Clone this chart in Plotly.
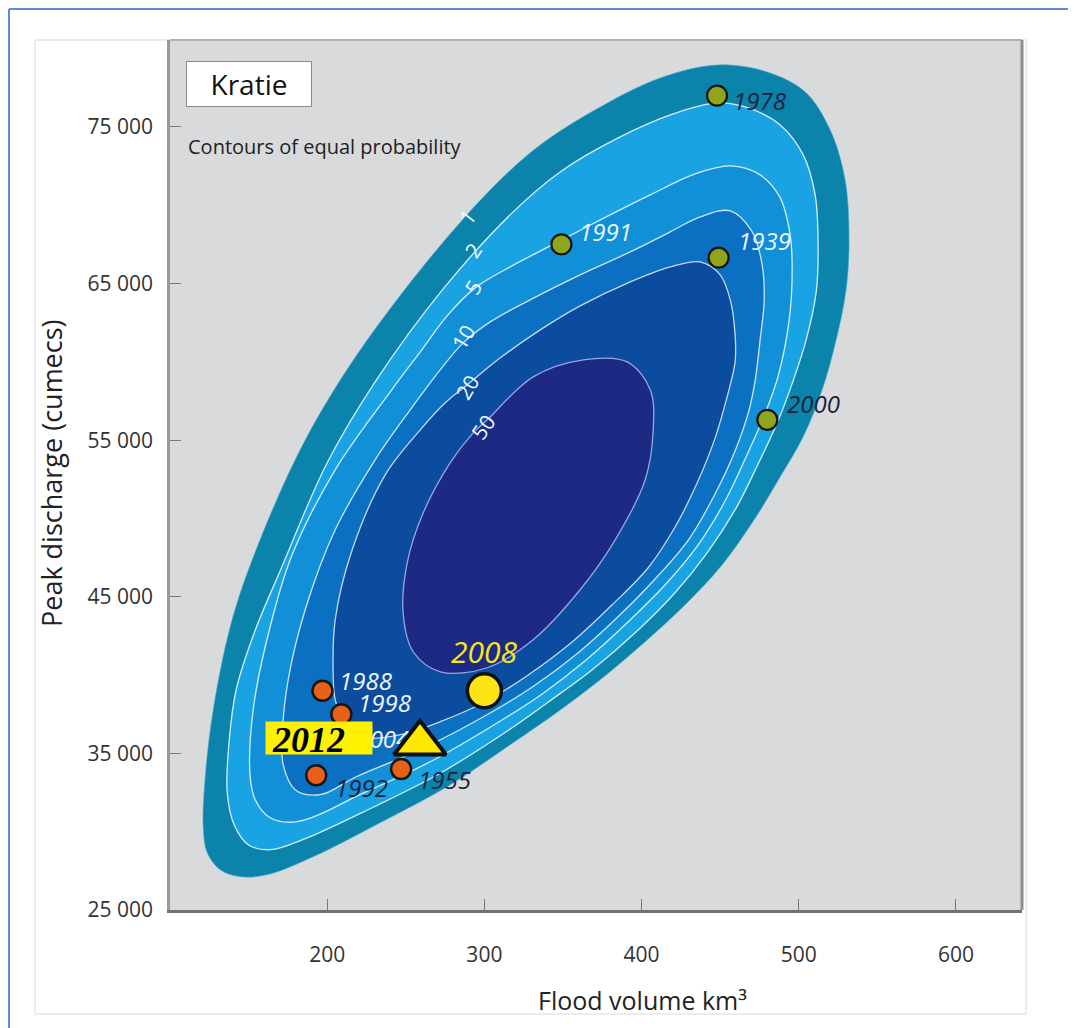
import plotly.graph_objects as go

# ---------------- axis ticks ----------------
x_tickvals = [200, 300, 400, 500, 600]
x_ticktext = ["200", "300", "400", "500", "600"]
y_tickvals = [25000, 35000, 45000, 55000, 65000, 75000]
y_ticktext = ["25 000", "35 000", "45 000", "55 000", "65 000", "75 000"]

# ---------------- contours of equal probability ----------------
levels = ["1", "2", "5", "10", "20", "50"]

c1_x = [448.1, 479.9, 504.1, 520.0, 529.5, 532.0, 530.1, 523.8, 514.9, 502.8, 488.2, 471.6, 451.3, 427.7,
        402.3, 373.7, 345.0, 318.3, 276.3, 233.7, 191.1, 161.8, 144.7, 131.9, 123.7, 121.1, 122.4, 127.5,
        138.3, 152.3, 182.8, 214.6, 259.2, 303.7, 335.5, 373.7, 411.8]
c1_y = [78957, 78510, 77234, 74808, 71617, 67787, 64595, 61404, 58212, 55212, 52659, 49914, 47042, 44489,
        42127, 39702, 37531, 35680, 32872, 30574, 28404, 27255, 27127, 27574, 28659, 30319, 33510, 37787,
        43085, 47361, 54382, 59808, 65872, 70978, 73851, 76276, 78127]

c2_x = [448.1, 467.8, 488.2, 502.8, 510.4, 512.3, 511.1, 504.7, 496.4, 486.3, 474.2, 460.2, 441.7, 420.7,
        396.6, 368.6, 340.0, 313.9, 271.3, 228.6, 186.0, 163.7, 149.8, 140.8, 136.4, 137.7, 142.1, 153.6,
        170.1, 200.0, 230.5, 273.8, 318.3, 348.2, 385.1, 420.1]
c2_y = [76532, 76212, 75127, 73212, 70659, 67468, 64468, 61404, 58787, 56106, 53489, 50680, 47808, 45191,
        42765, 40340, 38234, 36382, 33702, 31531, 29553, 28850, 29170, 30446, 32489, 35872, 39063, 42702,
        46659, 53553, 58723, 64659, 69574, 72127, 74297, 75829]

c3_x = [456.4, 475.4, 488.2, 494.5, 495.8, 493.9, 486.9, 478.0, 466.5, 453.2, 436.0, 415.0, 391.5, 364.1,
        336.1, 309.4, 266.8, 223.5, 180.9, 163.7, 154.2, 151.0, 152.9, 163.7, 177.7, 205.1, 240.1, 259.2,
        276.3, 294.1, 316.4, 341.9, 373.7, 405.5, 434.1]
c3_y = [72510, 71936, 70468, 68106, 65872, 62680, 59106, 56553, 53936, 51127, 48319, 45765, 43404, 40914,
        38744, 37021, 34531, 32489, 30638, 30893, 32042, 33510, 37787, 43085, 47680, 53106, 58085, 60638,
        62936, 64723, 66063, 67404, 69063, 70659, 72000]

c4_x = [456.4, 470.4, 476.7, 478.0, 475.4, 472.3, 468.4, 459.5, 446.8, 430.3, 409.9, 387.0, 359.7, 331.7,
        305.0, 261.7, 218.5, 195.6, 179.6, 172.0, 171.4, 175.2, 186.0, 205.1, 230.5, 252.8, 271.9, 286.5,
        303.7, 329.1, 360.9, 392.8, 418.2, 437.3]
c4_y = [69638, 68297, 66191, 63957, 61404, 58851, 56936, 54319, 51574, 48702, 46276, 43914, 41425, 39319,
        37659, 35361, 33510, 32361, 32680, 34276, 36191, 39702, 44170, 49276, 53744, 56936, 59489, 61212,
        62553, 63957, 65553, 67021, 68297, 69255]

c5_x = [437.3, 450.0, 456.4, 459.5, 459.5, 454.4, 446.8, 435.4, 421.4, 404.2, 381.3, 355.2, 327.2, 300.5,
        271.9, 246.4, 224.2, 211.5, 205.1, 203.8, 205.1, 215.9, 236.9, 259.2, 275.1, 289.1, 310.1, 335.5,
        360.9, 392.8, 418.2]
c5_y = [66383, 65553, 63957, 61723, 60000, 57765, 55148, 52276, 49468, 46851, 44489, 42063, 39957, 38297,
        37021, 36191, 35999, 36829, 38425, 40021, 43531, 47999, 52787, 55659, 57383, 58531, 60255, 62042,
        63574, 65106, 66063]

c6_x = [301.8, 331.0, 362.9, 390.8, 405.5, 407.4, 402.3, 383.2, 360.9, 331.0, 301.8, 271.9, 254.7, 248.3,
        250.9, 261.1, 278.2, 292.9]
c6_y = [56297, 59041, 60127, 59998, 58212, 55659, 52467, 48637, 45446, 42255, 40468, 40212, 41489, 43978,
        47169, 50361, 53553, 55468]

# contour label anchor positions
level_label_x = [288.9, 292.9, 292.9, 286.5, 289.1, 299.2]
level_label_y = [69274, 67148, 64787, 61595, 58404, 55851]

# ---------------- observed floods ----------------
green_years = ["1978", "1991", "1939", "2000"]
green_x = [448, 349, 449, 480]
green_y = [77000, 67500, 66650, 56300]

orange_years = ["1988", "1998", "2004", "1992", "1955"]
orange_x = [197, 209, 210, 193, 247]
orange_y = [39000, 37500, 35750, 33600, 34000]

y2008_x = [300]
y2008_y = [39000]

y2012_x = [259]
y2012_y = [35650]

# ---------------- styling ----------------
band_colors = ["#0c83ab", "#19a3e3", "#1190d8", "#0b6fc2", "#0b4c9f", "#1d2a83"]
line_colors = ["#4fb0d0", "#d5eefb", "#d5eefb", "#cfe6f7", "#c6d9f0", "#9aa6e0"]

fig = go.Figure()

contours = [(c1_x, c1_y), (c2_x, c2_y), (c3_x, c3_y), (c4_x, c4_y), (c5_x, c5_y), (c6_x, c6_y)]
for i, (cx, cy) in enumerate(contours):
    fig.add_trace(go.Scatter(
        x=cx + cx[:1], y=cy + cy[:1], mode="lines", fill="toself",
        fillcolor=band_colors[i],
        line=dict(color=line_colors[i], width=0.6 if i == 0 else 1.3, shape="spline", smoothing=1.0),
        hoverinfo="skip", showlegend=False))

fig.add_trace(go.Scatter(
    x=green_x, y=green_y, mode="markers",
    marker=dict(size=20, color="#8ea51d", line=dict(color="#161616", width=2.2)),
    showlegend=False, hoverinfo="skip"))

fig.add_trace(go.Scatter(
    x=orange_x, y=orange_y, mode="markers+text",
    text=["" if yr != "2004" else yr for yr in orange_years],
    textposition="middle right",
    textfont=dict(family="Open Sans", size=24, color="#e8f4ff", style="italic"),
    marker=dict(size=20, color="#e8601a", line=dict(color="#161616", width=2.5)),
    showlegend=False, hoverinfo="skip"))

fig.add_trace(go.Scatter(
    x=y2008_x, y=y2008_y, mode="markers",
    marker=dict(size=34, color="#fbe516", line=dict(color="#111111", width=3.5)),
    showlegend=False, hoverinfo="skip"))

fig.add_trace(go.Scatter(
    x=y2012_x, y=y2012_y, mode="markers",
    marker=dict(symbol="triangle-up", size=45, color="#ffe800", line=dict(color="#111111", width=4)),
    showlegend=False, hoverinfo="skip"))

annotations = []

# contour level labels
level_angles = [-52, -55, -58, -60, -60, -55]
for t, lx, ly, ang in zip(levels, level_label_x, level_label_y, level_angles):
    annotations.append(dict(x=lx, y=ly, xref="x", yref="y", text=t, showarrow=False,
                            textangle=ang, font=dict(family="Open Sans", size=21, color="#f2f8ff")))

# year labels (offsets in pixels)
label_style = {
    "1978": dict(dx=14, dy=-5, color="#1b1f3b"),
    "1991": dict(dx=16, dy=13, color="#eef6ff"),
    "1939": dict(dx=17, dy=17, color="#eef6ff"),
    "2000": dict(dx=18, dy=16, color="#1b1f3b"),
    "1988": dict(dx=15, dy=10, color="#eef6ff"),
    "1998": dict(dx=15, dy=12, color="#eef6ff"),
    "1992": dict(dx=17, dy=-12, color="#1b1f3b"),
    "1955": dict(dx=15, dy=-10, color="#1b1f3b"),
}
for yrs, xs, ys in [(green_years, green_x, green_y), (orange_years, orange_x, orange_y)]:
    for yr, px_, py_ in zip(yrs, xs, ys):
        if yr not in label_style:
            continue
        st = label_style[yr]
        annotations.append(dict(x=px_, y=py_, xref="x", yref="y", text="<i>%s</i>" % yr, showarrow=False,
                                xanchor="left", yanchor="middle", xshift=st["dx"], yshift=st["dy"],
                                font=dict(family="Open Sans", size=24, color=st["color"])))

annotations.append(dict(x=y2008_x[0], y=y2008_y[0], xref="x", yref="y", text="<i>2008</i>", showarrow=False,
                        xanchor="center", yanchor="middle", yshift=39,
                        font=dict(family="Open Sans", size=30, color="#f4e81c")))

# 2012 yellow label box + text
annotations.append(dict(x=y2012_x[0], y=y2012_y[0], xref="x", yref="y", text="&nbsp;", showarrow=False,
                        xanchor="center", yanchor="middle", xshift=-101, yshift=5,
                        width=106, height=32, bgcolor="#fff200", borderpad=0,
                        font=dict(size=8, color="#fff200")))
annotations.append(dict(x=y2012_x[0], y=y2012_y[0], xref="x", yref="y", text="<b><i>2012</i></b>",
                        showarrow=False, xanchor="left", yanchor="middle", xshift=-150, yshift=3,
                        font=dict(family="Liberation Serif", size=36, color="#000000")))


def px(v):
    return (v - 170) / 852


def py(v):
    return (910 - v) / 870


# Kratie box and subtitle
annotations.append(dict(x=px(249), y=py(84), xref="paper", yref="paper", text="Kratie",
                        showarrow=False, xanchor="center", yanchor="middle", width=122, height=42,
                        bgcolor="#ffffff", bordercolor="#8a8a8a", borderwidth=1, borderpad=1,
                        font=dict(family="Open Sans", size=28, color="#111111")))
annotations.append(dict(x=px(186), y=py(146), xref="paper", yref="paper",
                        text="Contours of equal probability", showarrow=False, xanchor="left", yanchor="middle",
                        font=dict(family="Open Sans", size=20, color="#222222")))

# axis titles
annotations.append(dict(x=px(52), y=py(473), xref="paper", yref="paper",
                        text="Peak discharge (cumecs)", showarrow=False, textangle=-90,
                        xanchor="center", yanchor="middle",
                        font=dict(family="Open Sans", size=27, color="#222222")))
annotations.append(dict(x=px(642), y=py(1000), xref="paper", yref="paper",
                        text="Flood volume km³", showarrow=False, xanchor="center", yanchor="middle",
                        font=dict(family="Open Sans", size=25, color="#222222")))

shapes = [
    # outer blue frame
    dict(type="line", xref="paper", yref="paper", x0=px(9), x1=px(9), y0=py(9), y1=py(1040),
         line=dict(color="#5b8bd0", width=2)),
    dict(type="line", xref="paper", yref="paper", x0=px(9), x1=px(1076), y0=py(9), y1=py(9),
         line=dict(color="#5b8bd0", width=2)),
    # light panel border
    dict(type="rect", xref="paper", yref="paper", x0=px(35), x1=px(1026), y0=py(1014), y1=py(40),
         line=dict(color="#e6e6e6", width=1.5), layer="below"),
    # top and right edge of plot area
    dict(type="line", xref="paper", yref="paper", x0=0, x1=1, y0=1, y1=1,
         line=dict(color="#b3b3b3", width=2)),
    dict(type="line", xref="paper", yref="paper", x0=1, x1=1, y0=0, y1=1,
         line=dict(color="#8e8e8e", width=3)),
]

# the page body adds an 8px margin, so the figure is 8px smaller than the window
fig.update_layout(
    width=1068, height=1020,
    margin=dict(l=162, r=54, t=32, b=118),
    paper_bgcolor="#ffffff", plot_bgcolor="#d9dadc",
    showlegend=False,
    annotations=annotations, shapes=shapes,
    font=dict(family="Open Sans", color="#333333"),
)
fig.update_xaxes(range=[100, 642], tickvals=x_tickvals, ticktext=x_ticktext, showgrid=False, zeroline=False,
                 showline=True, linecolor="#727272", linewidth=3, ticks="inside", ticklen=11,
                 tickcolor="#7a7a7a", tickwidth=1.2, ticklabelstandoff=24,
                 tickfont=dict(family="Open Sans", size=21, color="#333333"))
fig.update_yaxes(range=[25000, 80550], tickvals=y_tickvals, ticktext=y_ticktext, showgrid=False, zeroline=False,
                 showline=True, linecolor="#9a9a9a", linewidth=2.5, ticks="inside", ticklen=11,
                 tickcolor="#7a7a7a", tickwidth=1.2, ticklabelstandoff=10,
                 tickfont=dict(family="Open Sans", size=21, color="#333333"))

fig.write_html("out.html")
